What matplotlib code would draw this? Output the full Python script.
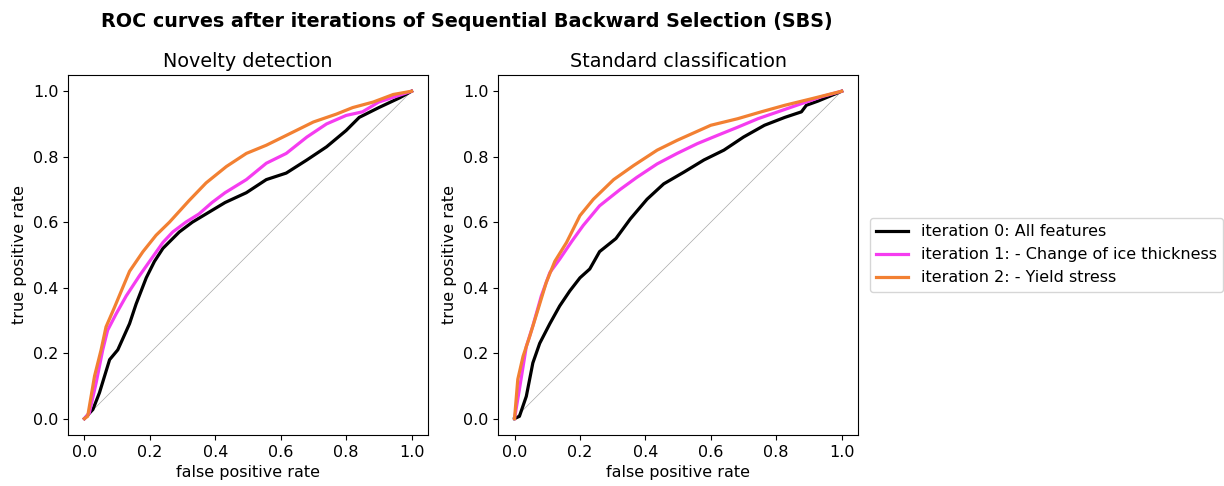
import matplotlib
matplotlib.use("Agg")
import matplotlib.pyplot as plt

labels = ["iteration 0: All features",
          "iteration 1: - Change of ice thickness",
          "iteration 2: - Yield stress"]
colors = ["#000000", "#f53cf0", "#f28032"]

# Novelty detection ROC curves (fpr, tpr)
nov_fpr0 = [0, 0.026, 0.046, 0.077, 0.102, 0.138, 0.158, 0.189, 0.214, 0.24, 0.29, 0.33,
            0.38, 0.43, 0.495, 0.556, 0.617, 0.68, 0.74, 0.80, 0.84, 0.90, 0.964, 1.0]
nov_tpr0 = [0, 0.028, 0.079, 0.18, 0.21, 0.29, 0.35, 0.43, 0.48, 0.52, 0.57, 0.60,
            0.63, 0.66, 0.69, 0.73, 0.75, 0.79, 0.83, 0.88, 0.92, 0.95, 0.98, 1.0]
nov_fpr1 = [0, 0.015, 0.036, 0.056, 0.071, 0.097, 0.128, 0.168, 0.199, 0.24, 0.27, 0.31,
            0.35, 0.39, 0.43, 0.495, 0.556, 0.617, 0.68, 0.74, 0.80, 0.85, 0.90, 0.964, 1.0]
nov_tpr1 = [0, 0.017, 0.11, 0.21, 0.27, 0.32, 0.375, 0.436, 0.48, 0.538, 0.57, 0.60,
            0.625, 0.66, 0.69, 0.73, 0.78, 0.81, 0.86, 0.90, 0.926, 0.937, 0.967, 0.988, 1.0]
nov_fpr2 = [0, 0.01, 0.031, 0.051, 0.066, 0.092, 0.117, 0.138, 0.179, 0.219, 0.26, 0.32,
            0.372, 0.434, 0.495, 0.556, 0.617, 0.70, 0.77, 0.82, 0.883, 0.944, 1.0]
nov_tpr2 = [0, 0.007, 0.13, 0.21, 0.28, 0.34, 0.40, 0.45, 0.51, 0.56, 0.60, 0.666,
            0.72, 0.77, 0.81, 0.835, 0.865, 0.906, 0.93, 0.95, 0.967, 0.99, 1.0]

# Standard classification ROC curves
std_fpr0 = [0, 0.015, 0.036, 0.056, 0.077, 0.108, 0.138, 0.169, 0.2, 0.23, 0.26, 0.31,
            0.354, 0.405, 0.456, 0.518, 0.579, 0.64, 0.70, 0.764, 0.826, 0.877, 0.892,
            0.928, 1.0]
std_tpr0 = [0, 0.007, 0.068, 0.17, 0.23, 0.29, 0.344, 0.39, 0.43, 0.457, 0.51, 0.55,
            0.61, 0.67, 0.717, 0.753, 0.79, 0.82, 0.86, 0.896, 0.92, 0.937, 0.957,
            0.97, 1.0]
std_fpr1 = [0, 0.015, 0.036, 0.056, 0.082, 0.108, 0.138, 0.174, 0.21, 0.26, 0.323, 0.374,
            0.436, 0.497, 0.559, 0.62, 0.682, 0.744, 0.805, 0.877, 0.938, 1.0]
std_tpr1 = [0, 0.09, 0.22, 0.283, 0.375, 0.446, 0.487, 0.54, 0.59, 0.65, 0.70, 0.737,
            0.778, 0.81, 0.84, 0.865, 0.89, 0.916, 0.937, 0.962, 0.983, 1.0]
std_fpr2 = [0, 0.01, 0.026, 0.046, 0.072, 0.097, 0.123, 0.159, 0.2, 0.241, 0.303, 0.364,
            0.436, 0.497, 0.6, 0.682, 0.754, 0.826, 0.908, 1.0]
std_tpr2 = [0, 0.12, 0.19, 0.25, 0.334, 0.416, 0.48, 0.538, 0.62, 0.67, 0.73, 0.773,
            0.82, 0.85, 0.896, 0.916, 0.937, 0.957, 0.977, 1.0]

ticks = [0.0, 0.2, 0.4, 0.6, 0.8, 1.0]

fig = plt.figure(figsize=(12.24, 4.86), dpi=100)
ax1 = fig.add_axes([0.0556, 0.105, 0.294, 0.741])
ax2 = fig.add_axes([0.407, 0.105, 0.294, 0.741])

panels = [
    (ax1, "Novelty detection",
     [(nov_fpr0, nov_tpr0), (nov_fpr1, nov_tpr1), (nov_fpr2, nov_tpr2)]),
    (ax2, "Standard classification",
     [(std_fpr0, std_tpr0), (std_fpr1, std_tpr1), (std_fpr2, std_tpr2)]),
]

for ax, title, curves in panels:
    ax.plot([0, 1], [0, 1], color="#a8a8a8", lw=0.5)
    for (fpr, tpr), lab, c in zip(curves, labels, colors):
        ax.plot(fpr, tpr, color=c, lw=2.3, label=lab)
    ax.set_title(title, fontsize=13.8)
    ax.set_xlabel("false positive rate", fontsize=11.5)
    ax.set_ylabel("true positive rate", fontsize=11.5)
    ax.set_xticks(ticks)
    ax.set_yticks(ticks)
    ax.tick_params(labelsize=11.5)

ax2.legend(loc="center left", bbox_to_anchor=(1.01, 0.5), fontsize=11.5)
fig.suptitle("ROC curves after iterations of Sequential Backward Selection (SBS)",
             fontsize=13.8, fontweight="bold", x=0.3815, y=0.975)

fig.savefig("out.png", dpi=100)
